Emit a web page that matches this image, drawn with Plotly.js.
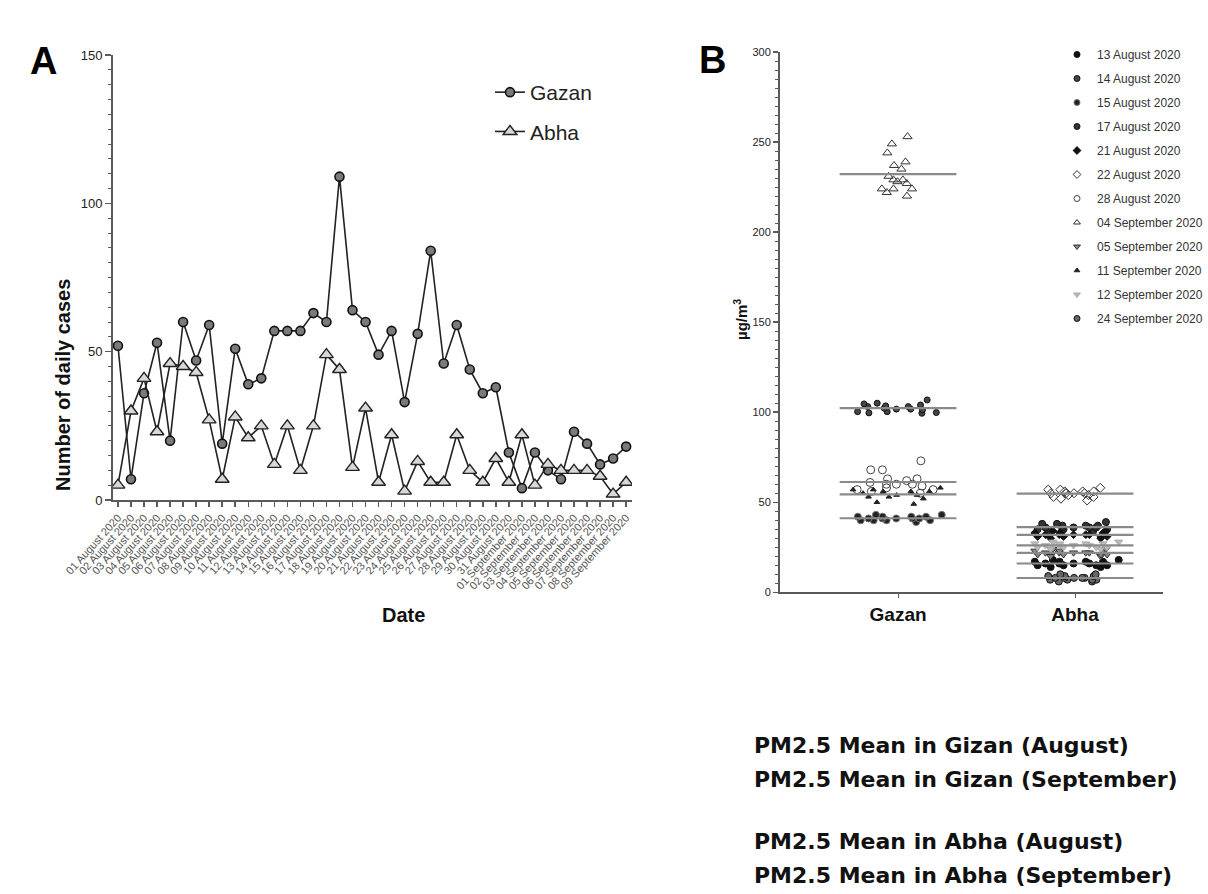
<!DOCTYPE html>
<html>
<head>
<meta charset="utf-8">
<script src="https://cdn.plot.ly/plotly-3.0.1.min.js"></script>
<style>
html,body{margin:0;padding:0;background:#fff;}
#chart{width:1208px;height:894px;}
</style>
</head>
<body>
<div id="chart"></div>
<script>
// ---------- Panel A data ----------
const dates = [
  '01 August 2020','02 August 2020','03 August 2020','04 August 2020','05 August 2020',
  '06 August 2020','07 August 2020','08 August 2020','09 August 2020','10 August 2020',
  '11 August 2020','12 August 2020','13 August 2020','14 August 2020','15 August 2020',
  '16 August 2020','17 August 2020','18 August 2020','19 August 2020','20 August 2020',
  '21 August 2020','22 August 2020','23 August 2020','24 August 2020','25 August 2020',
  '26 August 2020','27 August 2020','28 August 2020','29 August 2020','30 August 2020',
  '31 August 2020','01 September 2020','02 September 2020','03 September 2020','04 September 2020',
  '05 September 2020','06 September 2020','07 September 2020','08 September 2020','09 September 2020'
];
const gazanCases = [52, 7, 36, 53, 20, 60, 47, 59, 19, 51, 39, 41, 57, 57, 57, 63, 60, 109, 64, 60,
                    49, 57, 33, 56, 84, 46, 59, 44, 36, 38, 16, 4, 16, 10, 7, 23, 19, 12, 14, 18];
const abhaCases  = [5, 30, 41, 23, 46, 45, 43, 27, 7, 28, 21, 25, 12, 25, 10, 25, 49, 44, 11, 31,
                    6, 22, 3, 13, 6, 6, 22, 10, 6, 14, 6, 22, 5, 12, 10, 10, 10, 8, 2, 6];

// ---------- Panel B data (PM2.5, µg/m3) ----------
const cities = ['Gazan', 'Abha'];
const pmDates = ['13 August 2020','14 August 2020','15 August 2020','17 August 2020','21 August 2020',
                 '22 August 2020','28 August 2020','04 September 2020','05 September 2020',
                 '11 September 2020','12 September 2020','24 September 2020'];
const pmCity  = ['Abha','Gazan','Gazan','Abha','Abha','Abha','Gazan','Gazan','Abha','Gazan','Abha','Abha'];
const pm_13Aug = [17, 16, 18, 15, 14, 17, 16, 15, 18, 16, 14, 17, 15, 16, 17, 15];
const pm_14Aug = [99.8, 103.5, 104, 100.3, 100.3, 103.1, 104.6, 99.4, 105, 102.2, 101.3, 106.8, 103.1, 99.6, 101.7, 101.7];
const pm_15Aug = [42, 43, 41, 40, 42, 39, 41, 42, 40, 41, 43, 40, 41, 42, 41, 40];
const pm_17Aug = [38, 36, 37, 35, 39, 36, 34, 37, 36, 35, 38, 36, 35, 37, 34, 36];
const pm_21Aug = [33, 32, 31, 34, 32, 30, 33, 31, 32, 34, 31, 32, 33, 30, 32, 31];
const pm_22Aug = [55, 57, 53, 56, 58, 52, 54, 55, 56, 57, 55, 53, 54, 56, 55, 51];
const pm_28Aug = [73, 68, 68, 63, 63, 60, 62, 61, 60, 58, 57, 57, 56, 55, 59, 60];
const pm_04Sep = [253, 249, 244, 237, 239, 235, 231, 227, 229, 229, 224, 224, 222, 224, 220, 228];
const pm_05Sep = [23, 22, 21, 24, 22, 20, 23, 21, 22, 24, 21, 22, 23, 20, 22, 21];
const pm_11Sep = [57, 56, 54, 53, 55, 58, 52, 50, 49, 55, 56, 54, 57, 53, 55, 56];
const pm_12Sep = [27, 26, 28, 25, 24, 27, 26, 25, 28, 26, 24, 27, 25, 26, 27, 25];
const pm_24Sep = [8, 7, 9, 6, 8, 10, 7, 8, 9, 6, 8, 7, 9, 8, 10, 7];
const pmValues = [pm_13Aug, pm_14Aug, pm_15Aug, pm_17Aug, pm_21Aug, pm_22Aug, pm_28Aug,
                  pm_04Sep, pm_05Sep, pm_11Sep, pm_12Sep, pm_24Sep];

const bottomLines = ['PM2.5 Mean in Gizan (August)', 'PM2.5 Mean in Gizan (September)',
                     'PM2.5 Mean in Abha (August)', 'PM2.5 Mean in Abha (September)'];

// ---------- styles ----------
const pmStyles = [
  {symbol:'circle', size:7, color:'#111', line:'#111'},
  {symbol:'circle', size:6, color:'#444', line:'#111'},
  {symbol:'circle', size:7, color:'#222', line:'#777'},
  {symbol:'circle', size:7, color:'#333', line:'#111'},
  {symbol:'diamond', size:6, color:'#111', line:'#111'},
  {symbol:'diamond-open', size:7, color:'#333', line:'#333'},
  {symbol:'circle-open', size:8, color:'#444', line:'#444'},
  {symbol:'triangle-up-open', size:8, color:'#333', line:'#333'},
  {symbol:'triangle-down', size:7, color:'#888', line:'#333'},
  {symbol:'triangle-up', size:5, color:'#222', line:'#222'},
  {symbol:'triangle-down', size:7, color:'#bbb', line:'#aaa'},
  {symbol:'circle', size:7, color:'#666', line:'#111'}
];
const pmJitter = [0.9, 0.9, 0.9, 0.9, 0.9, 0.6, 0.9, 0.35, 0.9, 0.9, 0.9, 0.6];

const W = 1208, H = 894;
const px = v => v / W;
const py = v => 1 - v / H;

const idx = dates.map((d, i) => i);

const traces = [];
traces.push({
  type:'scatter', mode:'lines+markers', name:'Gazan', x: idx, y: gazanCases,
  xaxis:'x', yaxis:'y', legend:'legend', legendgroup:'g',
  line:{color:'#222', width:1.6},
  marker:{symbol:'circle', size:9, color:'#7a7a7a', line:{color:'#111', width:1.6}}
});
traces.push({
  type:'scatter', mode:'lines+markers', name:'Abha', x: idx, y: abhaCases,
  xaxis:'x', yaxis:'y', legend:'legend', legendgroup:'a',
  line:{color:'#222', width:1.6},
  marker:{symbol:'triangle-up', size:12, color:'#d8d8d8', line:{color:'#222', width:1.4}}
});

// Panel B: column scatter per sampling date
pmDates.forEach((d, i) => {
  const ci = cities.indexOf(pmCity[i]);
  const st = pmStyles[i];
  traces.push({
    type:'box', x0: ci, y: pmValues[i], xaxis:'x2', yaxis:'y2',
    boxpoints:'all', jitter: pmJitter[i], pointpos: 0, width: 0.62,
    fillcolor:'rgba(0,0,0,0)', line:{width:0, color:'rgba(0,0,0,0)'},
    marker:{symbol: st.symbol, size: st.size, color: st.color, line:{color: st.line, width:1}},
    showlegend:false, hoverinfo:'y', name: d
  });
});
// mean lines
pmDates.forEach((d, i) => {
  const ci = cities.indexOf(pmCity[i]);
  const vals = pmValues[i];
  const m = vals.reduce((a, b) => a + b, 0) / vals.length;
  traces.push({
    type:'scatter', mode:'lines', x:[ci - 0.33, ci + 0.33], y:[m, m],
    xaxis:'x2', yaxis:'y2', showlegend:false, hoverinfo:'skip',
    line:{color:'#8a8a8a', width:2.2}
  });
});
// legend entries for Panel B
pmDates.forEach((d, i) => {
  const st = pmStyles[i];
  traces.push({
    type:'scatter', mode:'markers', x:[null], y:[null], name: d,
    xaxis:'x2', yaxis:'y2', legend:'legend2', legendgroup:'pm' + i,
    marker:{symbol: st.symbol, size: Math.min(st.size, 6), color: st.color, line:{color: st.line, width:1}}
  });
});

const axisLine = '#5a5a5a';
const annotations = [
  {text:'<b>A</b>', x:px(28), y:py(38), xref:'paper', yref:'paper', showarrow:false,
   font:{family:'Arial', size:38, color:'#000'}},
  {text:'<b>B</b>', x:px(712), y:py(37), xref:'paper', yref:'paper', showarrow:false,
   font:{family:'Arial', size:38, color:'#000'}},
  {text:'<b>Number of daily cases</b>', x:px(50), y:py(277), xref:'paper', yref:'paper',
   showarrow:false, textangle:-90, font:{family:'Arial', size:20, color:'#111'}},
  {text:'<b>Date</b>', x:px(380), y:py(628), xref:'paper', yref:'paper', showarrow:false,
   font:{family:'Arial', size:20, color:'#111'}},
  {text:'<b>µg/m<sup>3</sup></b>', x:px(740), y:py(320), xref:'paper', yref:'paper',
   showarrow:false, textangle:-90, font:{family:'Arial', size:15, color:'#111'}}
];
const bottomY = [745, 779, 841, 875];
bottomLines.forEach((t, i) => {
  annotations.push({text:'<b>' + t + '</b>', x:px(752), y:py(bottomY[i]), xref:'paper', yref:'paper',
    xanchor:'left', yanchor:'middle', showarrow:false,
    font:{family:'DejaVu Sans', size:22, color:'#111'}});
});

const layout = {
  width:W, height:H, margin:{l:0, r:0, t:0, b:0},
  paper_bgcolor:'#fff', plot_bgcolor:'rgba(0,0,0,0)',
  showlegend:true, boxmode:'overlay',
  font:{family:'Arial', color:'#222'},
  xaxis:{domain:[px(113), px(632)], range:[-0.38, 39.45], type:'linear',
    tickmode:'array', tickvals: idx, ticktext: dates, tickangle:-48,
    tickfont:{family:'Arial', size:11, color:'#555'},
    ticks:'outside', ticklen:5, tickwidth:1.5, tickcolor:axisLine,
    showline:true, linecolor:axisLine, linewidth:2, showgrid:false, zeroline:false, automargin:false},
  yaxis:{domain:[py(500), py(55)], range:[0, 150], dtick:50,
    tickfont:{family:'Arial', size:13, color:'#222'},
    ticks:'outside', ticklen:6, tickwidth:1.5, tickcolor:axisLine,
    minor:{dtick:5, ticks:'outside', ticklen:3, tickcolor:axisLine, tickwidth:1},
    showline:true, linecolor:axisLine, linewidth:2, showgrid:false, zeroline:false, automargin:false},
  xaxis2:{domain:[px(780), px(1163)], range:[-0.667, 1.497], type:'linear', anchor:'y2',
    tickmode:'array', tickvals:[0, 1], ticktext: cities.map(c => '<b>' + c + '</b>'),
    tickfont:{family:'Arial', size:19, color:'#111'},
    ticks:'outside', ticklen:4, tickcolor:axisLine,
    showline:true, linecolor:axisLine, linewidth:2, showgrid:false, zeroline:false, automargin:false},
  yaxis2:{domain:[py(592.3), py(52)], range:[0, 300], dtick:50, anchor:'x2',
    tickfont:{family:'Arial', size:11, color:'#222'},
    ticks:'outside', ticklen:5, tickwidth:1.5, tickcolor:axisLine,
    minor:{dtick:5, ticks:'outside', ticklen:3, tickcolor:axisLine, tickwidth:1},
    showline:true, linecolor:axisLine, linewidth:2, showgrid:false, zeroline:false, automargin:false},
  legend:{x:px(490), y:py(72), xanchor:'left', yanchor:'top', bgcolor:'rgba(0,0,0,0)',
    font:{family:'Arial', size:21, color:'#222'}, traceorder:'grouped', tracegroupgap:9},
  legend2:{x:px(1057), y:py(40), xanchor:'left', yanchor:'top', bgcolor:'rgba(0,0,0,0)',
    font:{family:'Arial', size:12, color:'#333'}, traceorder:'grouped', tracegroupgap:5},
  annotations: annotations
};

Plotly.newPlot('chart', traces, layout, {displayModeBar:false, staticPlot:true});
</script>
</body>
</html>
